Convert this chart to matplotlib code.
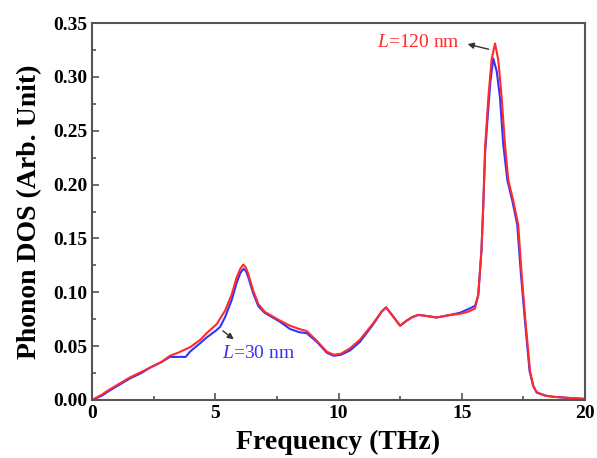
import matplotlib.pyplot as plt

plt.rcParams["font.family"] = "Liberation Serif"
plt.rcParams["font.weight"] = "bold"
plt.rcParams["mathtext.fontset"] = "custom"
plt.rcParams["mathtext.it"] = "Liberation Serif:italic:normal"
plt.rcParams["mathtext.rm"] = "Liberation Serif:normal"

freq_120 = [0, 0.4, 0.73, 1.1, 1.54, 2.0, 2.35, 2.8, 3.16, 3.5, 3.98, 4.4, 4.65, 5.06,
            5.4, 5.67, 5.87, 6.02, 6.14, 6.24, 6.34, 6.54, 6.75, 7.0, 7.3, 7.6, 8.03,
            8.4, 8.71, 9.12, 9.52, 9.8, 10.1, 10.47, 10.87, 11.4, 11.75, 11.93, 12.2,
            12.5, 12.76, 13.0, 13.24, 13.57, 13.98, 14.52, 14.93, 15.27, 15.54, 15.67,
            15.8, 15.87, 15.95, 16.08, 16.21, 16.35, 16.48, 16.62, 16.75, 16.89,
            17.09, 17.29, 17.43, 17.57, 17.77, 17.9, 18.04, 18.4, 18.7, 19.3, 20]
dos_120 = [0.000, 0.005, 0.010, 0.015, 0.021, 0.026, 0.030, 0.035, 0.041, 0.044, 0.049,
           0.056, 0.062, 0.0705, 0.083, 0.098, 0.114, 0.122, 0.1257, 0.123, 0.117,
           0.1015, 0.089, 0.082, 0.078, 0.074, 0.069, 0.066, 0.064, 0.055, 0.045, 0.042,
           0.043, 0.048, 0.056, 0.071, 0.082, 0.086, 0.078, 0.069, 0.0736, 0.077, 0.079,
           0.078, 0.0766, 0.0789, 0.080, 0.082, 0.085, 0.098, 0.139, 0.179, 0.236,
           0.281, 0.316, 0.331, 0.316, 0.281, 0.238, 0.204, 0.185, 0.163, 0.117, 0.077,
           0.027, 0.013, 0.007, 0.004, 0.003, 0.002, 0.001]

freq_30 = [0, 0.4, 0.73, 1.1, 1.54, 2.0, 2.35, 2.8, 3.16, 3.5, 3.8, 3.98, 4.4, 4.65,
           5.06, 5.2, 5.4, 5.67, 5.87, 6.02, 6.14, 6.24, 6.34, 6.54, 6.75, 7.0, 7.3,
           7.6, 8.03, 8.4, 8.71, 9.12, 9.52, 9.8, 10.1, 10.47, 10.87, 11.4, 11.75,
           11.93, 12.2, 12.5, 12.76, 13.0, 13.24, 13.57, 13.98, 14.52, 14.93, 15.27,
           15.54, 15.67, 15.8, 15.87, 15.95, 16.05, 16.16, 16.28, 16.42, 16.55, 16.68,
           16.85, 17.05, 17.25, 17.4, 17.55, 17.75, 17.9, 18.04, 18.4, 18.7, 19.3, 20]
dos_30 = [0.000, 0.004, 0.009, 0.014, 0.020, 0.025, 0.030, 0.035, 0.040, 0.040, 0.040,
          0.045, 0.053, 0.058, 0.065, 0.068, 0.077, 0.093, 0.109, 0.118, 0.1217, 0.120,
          0.114, 0.099, 0.087, 0.081, 0.077, 0.073, 0.066, 0.063, 0.062, 0.054, 0.044,
          0.041, 0.042, 0.046, 0.054, 0.070, 0.082, 0.086, 0.078, 0.069, 0.0736, 0.077,
          0.079, 0.078, 0.0766, 0.0789, 0.081, 0.0844, 0.0875, 0.097, 0.139, 0.179,
          0.230, 0.262, 0.295, 0.317, 0.305, 0.281, 0.238, 0.204, 0.185, 0.163, 0.117,
          0.077, 0.027, 0.013, 0.007, 0.004, 0.003, 0.002, 0.001]

fig = plt.figure(figsize=(5.97, 4.58), dpi=100)
ax = fig.add_axes([92 / 597, 58 / 458, 493 / 597, 377 / 458])

ax.plot(freq_30, dos_30, color="#3333ff", lw=1.5)
ax.plot(freq_120, dos_120, color="#ff2a2a", lw=1.5)

ax.set_xlim(0, 20)
ax.set_ylim(0, 0.35)
ax.set_xticks([0, 5, 10, 15, 20])
ax.set_xticks([2.5, 7.5, 12.5, 17.5], minor=True)
ax.set_yticks([0, 0.05, 0.10, 0.15, 0.20, 0.25, 0.30, 0.35])
ax.set_yticks([0.025, 0.075, 0.125, 0.175, 0.225, 0.275, 0.325], minor=True)
ax.set_yticklabels(["0.00", "0.05", "0.10", "0.15", "0.20", "0.25", "0.30", "0.35"])
ax.tick_params(which="both", direction="in", labelsize=14, width=1.2, color="#555555")
ax.tick_params(which="major", length=5)
ax.tick_params(which="minor", length=3)
for s in ax.spines.values():
    s.set_linewidth(1.5)
    s.set_color("#555555")

ax.set_xlabel("Frequency (THz)", fontsize=20, fontweight="bold", labelpad=6)
ax.set_ylabel("Phonon DOS (Arb. Unit)", fontsize=20, fontweight="bold", labelpad=8)

ax.annotate("", xy=(5.84, 0.0547), xytext=(5.22, 0.0658),
            arrowprops=dict(arrowstyle="-|>", color="#333333", lw=1, mutation_scale=9))
ax.text(5.26, 0.043, "$\\mathit{L}$=30 nm", color="#3333ff", fontsize=14,
        fontweight="normal", va="center", ha="left")

ax.annotate("", xy=(15.13, 0.331), xytext=(16.2, 0.325),
            arrowprops=dict(arrowstyle="-|>", color="#333333", lw=1, mutation_scale=9))
ax.text(14.93, 0.3315, "$\\mathit{L}$=120 nm", color="#ff2a2a", fontsize=14,
        fontweight="normal", va="center", ha="right")

fig.savefig("out.png", dpi=100)
